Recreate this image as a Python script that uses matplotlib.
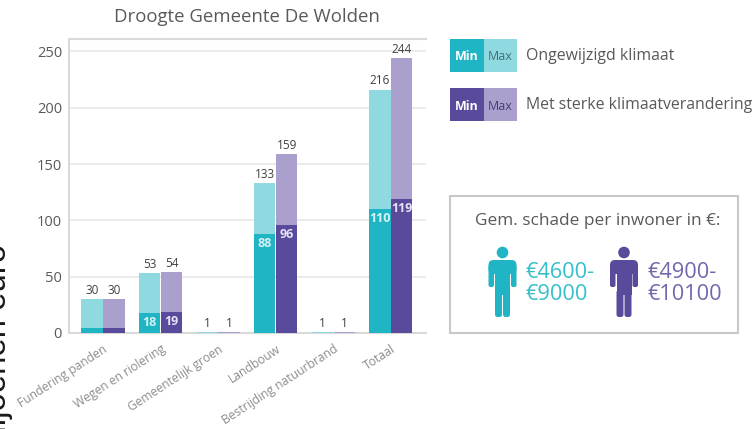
import matplotlib
matplotlib.use('Agg')
import numpy as np
import matplotlib.pyplot as plt
from matplotlib.patches import Rectangle, Circle, FancyBboxPatch

categories = ['Fundering panden', 'Wegen en riolering', 'Gemeentelijk groen',
              'Landbouw', 'Bestrijding natuurbrand', 'Totaal']
min_ongewijzigd = [4, 18, 0, 88, 0, 110]
max_ongewijzigd = [30, 53, 1, 133, 1, 216]
min_sterk = [4, 19, 0, 96, 0, 119]
max_sterk = [30, 54, 1, 159, 1, 244]
yticks = [0, 50, 100, 150, 200, 250]

TEAL = '#20b5c4'
TEAL_L = '#8fdae0'
PURPLE = '#5a4a9c'
PURPLE_L = '#aba0cd'
GREY = '#595959'

W, H = 756, 429
plt.rcParams['font.family'] = ['Open Sans', 'DejaVu Sans']

fig = plt.figure(figsize=(W / 100, H / 100), dpi=100)

# overlay in pixel coordinates for everything around the chart
bg = fig.add_axes([0, 0, 1, 1])
bg.set_xlim(0, W)
bg.set_ylim(H, 0)
bg.axis('off')

ax = fig.add_axes([69 / W, (H - 333) / H, (426 - 69) / W, (333 - 39.5) / H])
ax.patch.set_alpha(0)
x = np.arange(len(categories))
w = 0.37
off = 0.19
ax.bar(x - off, max_ongewijzigd, w, color=TEAL_L, zorder=3)
ax.bar(x + off, max_sterk, w, color=PURPLE_L, zorder=3)
ax.bar(x - off, min_ongewijzigd, w, color=TEAL, zorder=4)
ax.bar(x + off, min_sterk, w, color=PURPLE, zorder=4)

ax.set_xlim(-0.59, 5.61)
ax.set_ylim(0, 260.6)
ax.set_yticks(yticks)
ax.yaxis.grid(True, color='#e8e8e8', lw=1.2, zorder=0)
ax.set_axisbelow(True)
for s in ['top', 'right']:
    ax.spines[s].set_visible(False)
for s in ['left', 'bottom']:
    ax.spines[s].set_color('#d9d9d9')
    ax.spines[s].set_linewidth(1.5)
ax.axhline(260.6, color='#d9d9d9', lw=1.5, clip_on=False)
ax.tick_params(axis='y', length=0, labelsize=10.5, labelcolor=GREY, pad=5)
ax.set_xticks(x)
ax.set_xticklabels(categories, rotation=33, ha='right', rotation_mode='anchor',
                   fontsize=8.7, color='#8c8c8c')
ax.tick_params(axis='x', length=0, pad=7)

for i in range(len(categories)):
    ax.text(i - off, max_ongewijzigd[i] + 2, str(max_ongewijzigd[i]), ha='center', va='bottom',
            fontsize=8.5, color='#404040', zorder=5)
    ax.text(i + off, max_sterk[i] + 2, str(max_sterk[i]), ha='center', va='bottom',
            fontsize=8.5, color='#404040', zorder=5)
    if min_ongewijzigd[i] >= 10:
        ax.text(i - off, min_ongewijzigd[i] - 3, str(min_ongewijzigd[i]), ha='center', va='top',
                fontsize=9, color='#d5f2f4', fontweight='bold', zorder=5)
        ax.text(i + off, min_sterk[i] - 3, str(min_sterk[i]), ha='center', va='top',
                fontsize=9, color='#e6e2f2', fontweight='bold', zorder=5)

fig.text(247 / W, 1 - 17 / H, 'Droogte Gemeente De Wolden', ha='center', va='center',
         fontsize=13.4, color=GREY)

# axis title of the slide behind it, runs off the left and bottom edge
bg.text(6, 244, 'miljoenen euro', rotation=90, ha='right', va='baseline',
        rotation_mode='anchor', fontsize=23.8, family='Liberation Sans', color='#1a1a1a')

# legend
legend_rows = [(39, TEAL, TEAL_L, 'Ongewijzigd klimaat', '#3f6f78'),
               (88, PURPLE, PURPLE_L, 'Met sterke klimaatverandering', '#463c70')]
for top, dark, light, label, c_max in legend_rows:
    bg.add_patch(Rectangle((450, top), 33.5, 33, color=dark, lw=0))
    bg.add_patch(Rectangle((483.5, top), 33.5, 33, color=light, lw=0))
    bg.text(466.7, top + 18, 'Min', ha='center', va='center', fontsize=9,
            color='white', fontweight='bold')
    bg.text(500.2, top + 18, 'Max', ha='center', va='center', fontsize=9, color=c_max)
    bg.text(526, top + 17, label, ha='left', va='center', fontsize=11.4, color=GREY)

# box with damage per inhabitant
bg.add_patch(Rectangle((449.5, 196), 288.5, 136.5, fc='white', ec='#c8c8c8', lw=1.5))
bg.text(597.5, 221, 'Gem. schade per inwoner in €:', ha='center', va='center',
        fontsize=12.4, color=GREY)


def person(cx, color):
    bg.add_patch(Circle((cx, 252.5), 5.8, color=color, lw=0))
    bg.add_patch(FancyBboxPatch((cx - 14, 260), 28, 14, boxstyle='round,pad=0,rounding_size=5',
                                color=color, lw=0))
    bg.add_patch(FancyBboxPatch((cx - 14, 265), 5.5, 22, boxstyle='round,pad=0,rounding_size=2',
                                color=color, lw=0))
    bg.add_patch(FancyBboxPatch((cx + 8.5, 265), 5.5, 22, boxstyle='round,pad=0,rounding_size=2',
                                color=color, lw=0))
    bg.add_patch(Rectangle((cx - 7.5, 265), 15, 30, color=color, lw=0))
    bg.add_patch(FancyBboxPatch((cx - 7.5, 290), 7, 27, boxstyle='round,pad=0,rounding_size=2.5',
                                color=color, lw=0))
    bg.add_patch(FancyBboxPatch((cx + 0.5, 290), 7, 27, boxstyle='round,pad=0,rounding_size=2.5',
                                color=color, lw=0))


person(502.5, TEAL)
person(624, PURPLE)
bg.text(526, 272, '€4600-', ha='left', va='center', fontsize=15.7, color='#35bfcb')
bg.text(526, 295, '€9000', ha='left', va='center', fontsize=15.7, color='#35bfcb')
bg.text(647, 272, '€4900-', ha='left', va='center', fontsize=15.7, color='#7466ad')
bg.text(647, 295, '€10100', ha='left', va='center', fontsize=15.7, color='#7466ad')

fig.savefig('out.png', dpi=100)
